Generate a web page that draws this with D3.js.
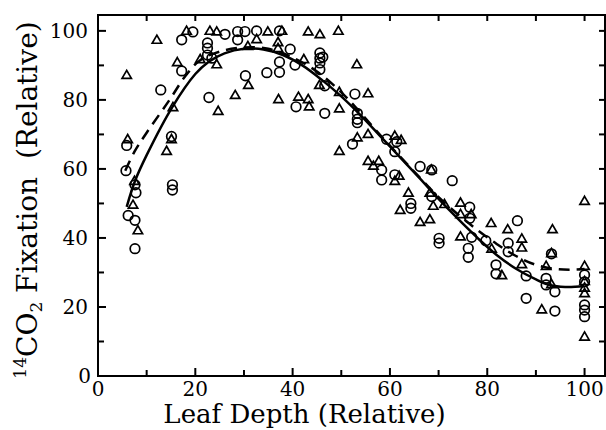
<!DOCTYPE html>
<html><head><meta charset="utf-8">
<script src="https://cdn.jsdelivr.net/npm/d3@7"></script>
<style>body{margin:0;background:#fff}svg{display:block}text{font-family:"DejaVu Serif",serif;fill:#000}</style>
</head><body><svg id="c" width="606" height="430"></svg>
<script>
const xTicks = [0, 20, 40, 60, 80, 100];
const yTicks = [0, 20, 40, 60, 80, 100];
const xLabel = "Leaf Depth (Relative)";

const triangles = [[5.9,87],[6.1,68.4],[7.5,56.3],[7.2,49.4],[8.2,42],[12.1,97.2],[14.1,65],[15.1,68.4],[15.4,77.7],[16.3,90.7],[18.2,99.8],[21,91.6],[23,99.8],[24.4,99.6],[24.4,90.1],[24.7,76.6],[28.2,81.2],[30.9,84.1],[30.8,95.4],[32.6,97.4],[34.9,99.6],[37.1,80],[37,96.5],[37,94.8],[37.8,99.8],[41.2,80.7],[43.2,80],[43.4,77.9],[42.3,91.6],[43.2,99.6],[45.6,98.8],[45.5,84.1],[49.4,99.8],[49.6,82.1],[49.6,77.3],[49.6,65],[53.2,90.1],[53.3,68.9],[55.5,81.7],[55.5,69.9],[55.5,62.1],[56.6,60.7],[57.7,62.1],[61,69.4],[61,56.3],[61.9,57.8],[62.3,68.2],[62.1,47.9],[63.8,52.9],[66.2,44.4],[68.2,45.2],[68.2,52.9],[68.9,49.1],[68.5,59.6],[71.2,49.6],[74.5,50],[74.5,46.7],[74.5,40.2],[76.7,46.7],[80.8,44.1],[80.9,36.7],[83,29],[84.2,42.3],[87.1,39.6],[87.1,37],[87.1,32.2],[91.2,19.1],[93.4,42.3],[93.2,35.4],[92.1,31.7],[93.2,26.4],[100,50.5],[100,31.7],[100,27.3],[100,25.4],[100,23.8],[100,11.2]];

const circles = [[5.9,66.8],[5.75,59.5],[6.2,46.5],[7.8,53.1],[7.6,55.4],[7.6,45.1],[7.6,36.9],[12.9,82.9],[15.1,69.4],[15.3,55.4],[15.3,53.9],[17.2,97.4],[17.2,88.4],[19.5,99.7],[22.5,96.5],[22.5,95],[22.5,93],[23.4,92.1],[22.8,80.7],[26.1,99],[28.7,99.8],[28.7,97.4],[30.2,99.8],[30.3,87],[32.6,100],[34.7,87.9],[37.3,100],[37.3,91],[37.3,88],[39.5,94.7],[40.5,90.1],[40.7,78],[45.6,93.6],[45.6,92.1],[46.2,92.4],[45.6,90.7],[45.6,88.8],[46.6,84.1],[46.6,76.1],[52.8,81.7],[52.3,67.2],[53.3,76.1],[53.3,74.4],[53.3,73.4],[59.3,68.6],[61.4,67.9],[61,65],[58.3,59.7],[58.3,56.8],[61,58.3],[64.3,50],[64.3,48.6],[66.2,60.7],[68.6,59.7],[68.6,52],[70.1,39.9],[70.1,38.5],[72.8,56.6],[76.4,48.9],[76.4,45.7],[76.8,40.2],[76.1,37],[76.1,34.4],[79.7,39.2],[81.8,32.2],[81.8,29.6],[84.3,38.5],[84.3,36],[86.2,45],[88,29],[88,22.5],[92.1,28.3],[92.1,26.4],[93.2,35.4],[93.9,24.4],[93.9,18.8],[100,29.3],[100,27.3],[100,20.6],[100,19.1],[100,17.2]];

const solidFit = [[5.9,49],[7.6,56.5],[10,64],[15.3,78],[20,87.5],[22.7,91],[26,93.5],[30,94.8],[34,94.6],[38,93],[42,90],[46,85.8],[50,81],[54,75.5],[58,69.5],[62,63.5],[66,57.5],[70,51.3],[74,45.5],[78,40],[82,35],[86,31],[90,28],[93,26.3],[96,25.8],[100,26]];

const dashedFit = [[5.6,59.5],[7.5,65],[10,70.5],[14.7,80],[18,87],[21,91.5],[25,94],[30,95.2],[35,94.8],[40,92.3],[45,88.2],[50,82.2],[54,76.2],[58,69.8],[62,63.7],[66,57.7],[70,51.8],[74,46.8],[78,42.3],[82,38.2],[86,34.7],[90,32.2],[94,31],[97,30.8],[100,31]];

const svg = d3.select("#c");
const L = 98, R = 605, T = 15, B = 376;
const x = d3.scaleLinear().domain([0, 104.2]).range([L, R]);
const y = d3.scaleLinear().domain([0, 104.6]).range([B, T]);

svg.append("rect").attr("x", L).attr("y", T).attr("width", R - L).attr("height", B - T)
  .attr("fill", "none").attr("stroke", "#000").attr("stroke-width", 2);

const allTen = d3.range(0, 101, 10);

svg.append("g").selectAll("line").data(allTen).join("line")
  .attr("x1", d => x(d)).attr("x2", d => x(d))
  .attr("y1", B).attr("y2", d => B - (d % 20 === 0 ? 8 : 6))
  .attr("stroke", "#000").attr("stroke-width", 2);
svg.append("g").selectAll("line").data(allTen).join("line")
  .attr("x1", d => x(d)).attr("x2", d => x(d))
  .attr("y1", T).attr("y2", T + 6)
  .attr("stroke", "#000").attr("stroke-width", 2);
svg.append("g").selectAll("line").data(allTen).join("line")
  .attr("y1", d => y(d)).attr("y2", d => y(d))
  .attr("x1", L).attr("x2", d => L + (d % 20 === 0 ? 8 : 6))
  .attr("stroke", "#000").attr("stroke-width", 2);
svg.append("g").selectAll("line").data(allTen).join("line")
  .attr("y1", d => y(d)).attr("y2", d => y(d))
  .attr("x1", R).attr("x2", R - 6)
  .attr("stroke", "#000").attr("stroke-width", 2);

svg.append("g").selectAll("text").data(xTicks).join("text")
  .attr("x", d => x(d)).attr("y", 396).attr("text-anchor", "middle")
  .attr("font-size", 20).text(d => d);
svg.append("g").selectAll("text").data(yTicks).join("text")
  .attr("x", d => d === 0 ? 91 : 88).attr("y", d => y(d) + 7).attr("text-anchor", "end")
  .attr("font-size", 20).text(d => d);

svg.append("text").attr("x", (166 + 443) / 2).attr("y", 423).attr("text-anchor", "middle")
  .attr("font-size", 26).text(xLabel);

const yl = svg.append("text").attr("transform", "translate(37,200) rotate(-90)")
  .attr("text-anchor", "middle").attr("font-size", 28);
yl.append("tspan").attr("font-size", 17).attr("dy", -11).text("14");
yl.append("tspan").attr("dy", 11).text("CO");
yl.append("tspan").attr("font-size", 17).attr("dy", 5).text("2");
yl.append("tspan").attr("dy", -5).text("\u00a0Fixation\u00a0\u00a0(Relative)");

const line = d3.line().x(d => x(d[0])).y(d => y(d[1])).curve(d3.curveCatmullRom);
svg.append("path").datum(dashedFit).attr("d", line).attr("fill", "none")
  .attr("stroke", "#000").attr("stroke-width", 2.5).attr("stroke-dasharray", "11,7");
svg.append("path").datum(solidFit).attr("d", line).attr("fill", "none")
  .attr("stroke", "#000").attr("stroke-width", 2.5);

svg.append("g").selectAll("circle").data(circles).join("circle")
  .attr("cx", d => x(d[0])).attr("cy", d => y(d[1])).attr("r", 4.8)
  .attr("fill", "none").attr("stroke", "#000").attr("stroke-width", 1.7);
const tri = d3.symbol().type(d3.symbolTriangle).size(38);
svg.append("g").selectAll("path").data(triangles).join("path")
  .attr("transform", d => `translate(${x(d[0])},${y(d[1])})`).attr("d", tri)
  .attr("fill", "none").attr("stroke", "#000").attr("stroke-width", 1.7);
</script></body></html>
